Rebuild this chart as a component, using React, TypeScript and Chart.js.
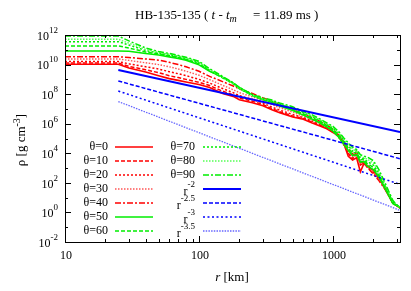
import React, { useEffect, useRef } from 'react';
import { Chart, registerables } from 'chart.js';

Chart.register(...registerables);

// ---------------- DATA ----------------
const radii = [10, 25, 30, 40, 50, 60, 70, 80, 100, 120, 150, 180, 200, 250, 300, 350, 400, 500, 600, 700, 800, 900, 1000, 1100, 1200, 1300, 1400, 1500, 1600, 1700, 1800, 2000, 2200, 2500, 2800, 3162];

// log10(rho) along each polar angle
const logRhoTheta0 = [10.02, 10.02, 9.77, 9.50, 9.25, 9.05, 8.93, 8.82, 8.65, 8.45, 8.05, 7.85, 7.62, 7.42, 7.22, 6.95, 6.75, 6.45, 6.30, 6.05, 5.85, 5.65, 5.40, 5.20, 4.70, 3.80, 3.55, 3.70, 2.75, 3.30, 3.10, 2.85, 2.40, 1.40, 0.65, 0.30];
const logRhoTheta10 = [10.10, 10.10, 9.88, 9.65, 9.45, 9.25, 9.12, 9.00, 8.80, 8.58, 8.20, 7.95, 7.75, 7.52, 7.30, 7.02, 6.82, 6.52, 6.36, 6.10, 5.90, 5.68, 5.44, 5.15, 4.65, 4.00, 3.60, 4.15, 3.20, 3.35, 3.15, 2.72, 2.28, 1.52, 0.64, 0.30];
const logRhoTheta20 = [10.20, 10.20, 10.05, 9.85, 9.70, 9.52, 9.38, 9.25, 9.00, 8.75, 8.38, 8.10, 7.90, 7.65, 7.40, 7.12, 6.92, 6.62, 6.42, 6.18, 5.95, 5.72, 5.48, 5.10, 4.60, 4.05, 3.65, 4.10, 3.30, 3.45, 3.25, 2.80, 2.30, 1.55, 0.63, 0.31];
const logRhoTheta30 = [10.38, 10.38, 10.28, 10.12, 10.00, 9.85, 9.70, 9.55, 9.28, 8.98, 8.60, 8.30, 8.10, 7.82, 7.55, 7.30, 7.08, 6.78, 6.50, 6.28, 6.02, 5.78, 5.52, 5.15, 4.70, 4.20, 3.80, 3.95, 3.35, 3.50, 3.15, 2.70, 2.25, 1.50, 0.62, 0.32];
const logRhoTheta40 = [10.53, 10.53, 10.48, 10.38, 10.30, 10.15, 10.00, 9.85, 9.55, 9.20, 8.85, 8.55, 8.35, 8.05, 7.75, 7.55, 7.30, 6.95, 6.65, 6.40, 6.15, 5.90, 5.62, 5.25, 4.80, 4.35, 3.95, 3.80, 3.45, 3.30, 3.05, 2.60, 2.15, 1.45, 0.60, 0.33];
const logRhoTheta50 = [10.92, 10.92, 10.90, 10.75, 10.65, 10.52, 10.42, 10.30, 9.98, 9.55, 9.15, 8.75, 8.45, 7.95, 7.65, 7.45, 7.20, 6.90, 6.58, 6.30, 6.05, 5.78, 5.50, 5.10, 4.62, 4.20, 3.85, 3.90, 3.40, 3.45, 3.15, 2.90, 2.40, 1.45, 0.60, 0.35];
const logRhoTheta60 = [11.26, 11.26, 11.12, 10.85, 10.72, 10.60, 10.48, 10.35, 10.05, 9.58, 9.10, 8.72, 8.38, 7.90, 7.62, 7.48, 7.25, 6.97, 6.66, 6.40, 6.14, 5.87, 5.62, 5.22, 4.78, 4.35, 4.00, 4.08, 3.55, 3.62, 3.30, 3.05, 2.50, 1.55, 0.65, 0.33];
const logRhoTheta70 = [11.55, 11.55, 11.32, 10.95, 10.78, 10.66, 10.54, 10.40, 10.12, 9.62, 9.12, 8.70, 8.38, 7.90, 7.64, 7.52, 7.30, 7.04, 6.74, 6.48, 6.22, 5.94, 5.70, 5.32, 4.88, 4.52, 4.15, 4.22, 3.68, 3.62, 3.45, 3.20, 2.65, 1.62, 0.70, 0.32];
const logRhoTheta80 = [11.71, 11.71, 11.45, 11.02, 10.82, 10.70, 10.58, 10.45, 10.18, 9.66, 9.14, 8.72, 8.40, 7.92, 7.68, 7.55, 7.34, 7.08, 6.78, 6.52, 6.26, 6.00, 5.76, 5.40, 4.95, 4.62, 4.30, 4.10, 3.80, 3.70, 3.60, 3.35, 2.75, 1.70, 0.75, 0.30];
const logRhoTheta90 = [11.93, 11.93, 11.60, 11.12, 10.88, 10.75, 10.62, 10.50, 10.22, 9.72, 9.20, 8.78, 8.45, 7.98, 7.74, 7.60, 7.40, 7.15, 6.82, 6.60, 6.32, 6.05, 5.82, 5.48, 5.05, 4.70, 4.42, 4.25, 3.90, 3.80, 3.75, 3.50, 2.90, 1.80, 0.80, 0.28];

const thetaLabels = ['θ=0', 'θ=10', 'θ=20', 'θ=30', 'θ=40', 'θ=50', 'θ=60', 'θ=70', 'θ=80', 'θ=90'];

// reference power laws, end points
const powerLawRadii = [25, 3162];
const logRhoR2 = [9.63, 5.43];
const logRhoR25 = [8.89, 3.63];
const logRhoR3 = [8.21, 1.90];
const logRhoR35 = [7.50, 0.14];
const powerLawExponents = ['-2', '-2.5', '-3', '-3.5'];

const xTickValues = [10, 100, 1000];
const xMinorTicks = [20, 30, 40, 50, 60, 70, 80, 90, 200, 300, 400, 500, 600, 700, 800, 900, 2000, 3000];
const yMajorExponents = [-2, 0, 2, 4, 6, 8, 10, 12];
const yMinorExponents = [-1, 1, 3, 5, 7, 9, 11];

// ---------------- STYLES ----------------
const RED = '#ff0000';
const GREEN = '#00ee00';
const BLUE = '#0000ff';
const thetaStyles = [
  { color: RED, dash: [], width: 1.6 },
  { color: RED, dash: [4, 2], width: 1.5 },
  { color: RED, dash: [2, 2], width: 1.5 },
  { color: '#ff5555', dash: [1.5, 1.5], width: 1.4 },
  { color: RED, dash: [6, 2, 2, 2], width: 1.5 },
  { color: GREEN, dash: [], width: 1.6 },
  { color: GREEN, dash: [4, 2], width: 1.5 },
  { color: GREEN, dash: [2, 2], width: 1.5 },
  { color: '#55ff55', dash: [1.5, 1.5], width: 1.4 },
  { color: GREEN, dash: [6, 2, 2, 2], width: 1.5 },
];
const powerStyles = [
  { color: BLUE, dash: [], width: 2 },
  { color: BLUE, dash: [4, 2], width: 1.5 },
  { color: BLUE, dash: [2, 2.5], width: 1.5 },
  { color: '#6666ff', dash: [1.5, 1.2], width: 1.3 },
];

const FONT = '"Liberation Serif", "Times New Roman", serif';

const thetaSeries = [logRhoTheta0, logRhoTheta10, logRhoTheta20, logRhoTheta30, logRhoTheta40, logRhoTheta50, logRhoTheta60, logRhoTheta70, logRhoTheta80, logRhoTheta90];
const powerSeries = [logRhoR2, logRhoR25, logRhoR3, logRhoR35];

function drawSup(ctx: CanvasRenderingContext2D, base: string, sup: string, xRight: number, y: number, baseSize: number, supSize: number, baseDy: number, supDy: number) {
  ctx.font = `${baseSize}px ${FONT}`;
  const wb = ctx.measureText(base).width;
  ctx.font = `${supSize}px ${FONT}`;
  const ws = ctx.measureText(sup).width;
  const x0 = xRight - wb - ws;
  ctx.textAlign = 'left';
  ctx.textBaseline = 'middle';
  ctx.font = `${baseSize}px ${FONT}`;
  ctx.fillText(base, x0, y + baseDy);
  ctx.font = `${supSize}px ${FONT}`;
  ctx.fillText(sup, x0 + wb, y + supDy);
}

const framePlugin = {
  id: 'gnuplotFrame',
  afterDraw(chart: any) {
    const { ctx, chartArea } = chart;
    const xs = chart.scales.x;
    const ys = chart.scales.y;
    const { left, right, top, bottom } = chartArea;
    ctx.save();
    ctx.strokeStyle = '#000';
    ctx.fillStyle = '#000';
    ctx.lineWidth = 1;
    ctx.setLineDash([]);
    // border
    ctx.strokeRect(Math.round(left) + 0.5, Math.round(top) + 0.5, Math.round(right - left), Math.round(bottom - top));
    // x ticks
    const tick = (x: number, len: number) => {
      const px = Math.round(x) + 0.5;
      ctx.beginPath();
      ctx.moveTo(px, bottom);
      ctx.lineTo(px, bottom - len);
      ctx.moveTo(px, top);
      ctx.lineTo(px, top + len);
      ctx.stroke();
    };
    xTickValues.forEach((v) => tick(xs.getPixelForValue(v), 6));
    xMinorTicks.forEach((v) => tick(xs.getPixelForValue(v), 3));
    const ytick = (y: number, len: number) => {
      const py = Math.round(y) + 0.5;
      ctx.beginPath();
      ctx.moveTo(left, py);
      ctx.lineTo(left + len, py);
      ctx.moveTo(right, py);
      ctx.lineTo(right - len, py);
      ctx.stroke();
    };
    yMajorExponents.forEach((e) => ytick(ys.getPixelForValue(Math.pow(10, e)), 6));
    yMinorExponents.forEach((e) => ytick(ys.getPixelForValue(Math.pow(10, e)), 3));

    // x tick labels
    ctx.font = `12px ${FONT}`;
    ctx.textAlign = 'center';
    ctx.textBaseline = 'middle';
    xTickValues.forEach((v) => ctx.fillText(String(v), xs.getPixelForValue(v) + 1, 256));
    // y tick labels
    yMajorExponents.forEach((e) => {
      const y = ys.getPixelForValue(Math.pow(10, e));
      drawSup(ctx, '10', String(e), 58, y, 12, 9, 1.5, -4.5);
    });

    // x axis title
    ctx.font = `italic 13px ${FONT}`;
    const wr = ctx.measureText('r').width;
    ctx.font = `13px ${FONT}`;
    const wk = ctx.measureText(' [km]').width;
    const xt0 = 232 - (wr + wk) / 2;
    ctx.textAlign = 'left';
    ctx.font = `italic 13px ${FONT}`;
    ctx.fillText('r', xt0, 278);
    ctx.font = `13px ${FONT}`;
    ctx.fillText(' [km]', xt0 + wr, 278);

    // y axis title
    ctx.save();
    ctx.translate(22, 140);
    ctx.rotate(-Math.PI / 2);
    ctx.font = `13px ${FONT}`;
    const a = 'ρ [g cm';
    const wa = ctx.measureText(a).width;
    ctx.font = `10px ${FONT}`;
    const wsup = ctx.measureText('-3').width;
    ctx.font = `13px ${FONT}`;
    const wc = ctx.measureText(']').width;
    const tx = -(wa + wsup + wc) / 2;
    ctx.textAlign = 'left';
    ctx.textBaseline = 'middle';
    ctx.fillText(a, tx, 0);
    ctx.font = `10px ${FONT}`;
    ctx.fillText('-3', tx + wa, -5);
    ctx.font = `13px ${FONT}`;
    ctx.fillText(']', tx + wa + wsup, 0);
    ctx.restore();

    // title
    ctx.textAlign = 'left';
    ctx.textBaseline = 'alphabetic';
    let x = 135;
    const by = 19;
    const put = (s: string, font: string, dy = 0) => {
      ctx.font = font;
      ctx.fillText(s, x, by + dy);
      x += ctx.measureText(s).width;
    };
    put('HB-135-135 ( ', `13px ${FONT}`);
    put('t', `italic 13px ${FONT}`);
    put(' - ', `13px ${FONT}`);
    put('t', `italic 13px ${FONT}`);
    put('m', `italic 10px ${FONT}`, 3);
    x += 13;
    put(' = 11.89 ms )', `13px ${FONT}`);

    // legend
    const rowY = (i: number) => 147 + i * 14;
    const sample = (x1: number, x2: number, y: number, st: any) => {
      ctx.save();
      ctx.strokeStyle = st.color;
      ctx.lineWidth = st.width;
      ctx.setLineDash(st.dash);
      ctx.beginPath();
      ctx.moveTo(x1, Math.round(y));
      ctx.lineTo(x2, Math.round(y));
      ctx.stroke();
      ctx.restore();
    };
    thetaLabels.forEach((lab, i) => {
      const col = i < 7 ? 0 : 1;
      const row = i < 7 ? i : i - 7;
      const y = rowY(row);
      ctx.fillStyle = '#000';
      ctx.font = `12px ${FONT}`;
      ctx.textAlign = 'right';
      ctx.textBaseline = 'middle';
      ctx.fillText(lab, col === 0 ? 108 : 195, y);
      sample(col === 0 ? 115 : 203, col === 0 ? 153 : 241, y, thetaStyles[i]);
    });
    powerLawExponents.forEach((ex, j) => {
      const y = rowY(3 + j);
      ctx.fillStyle = '#000';
      drawSup(ctx, 'r', ex, 195, y, 12, 9, 3, -4);
      sample(203, 241, y, powerStyles[j]);
    });
    ctx.restore();
  },
};

export default function App() {
  const ref = useRef<HTMLCanvasElement | null>(null);
  useEffect(() => {
    document.body.style.margin = '0';
    const canvas = ref.current;
    if (!canvas) return;
    const datasets: any[] = [];
    thetaSeries.forEach((arr, i) => {
      datasets.push({
        label: thetaLabels[i],
        data: radii.map((r, k) => ({ x: r, y: Math.pow(10, arr[k]) })),
        borderColor: thetaStyles[i].color,
        backgroundColor: thetaStyles[i].color,
        borderDash: thetaStyles[i].dash,
        borderWidth: thetaStyles[i].width,
        pointRadius: 0,
        tension: 0,
        fill: false,
        order: 100 - i,
      });
    });
    powerSeries.forEach((arr, j) => {
      datasets.push({
        label: 'r^' + powerLawExponents[j],
        data: powerLawRadii.map((r, k) => ({ x: r, y: Math.pow(10, arr[k]) })),
        borderColor: powerStyles[j].color,
        backgroundColor: powerStyles[j].color,
        borderDash: powerStyles[j].dash,
        borderWidth: powerStyles[j].width,
        pointRadius: 0,
        tension: 0,
        fill: false,
        order: 50 - j,
      });
    });
    const chart = new Chart(canvas, {
      type: 'line',
      data: { datasets },
      options: {
        animation: false,
        responsive: false,
        devicePixelRatio: 1,
        layout: { padding: { left: 65, right: 11, top: 35, bottom: 49 } },
        plugins: { legend: { display: false }, tooltip: { enabled: false }, title: { display: false } },
        scales: {
          x: { type: 'logarithmic', min: 10, max: 3162, display: false },
          y: { type: 'logarithmic', min: 1e-2, max: 1e12, display: false },
        },
      },
      plugins: [framePlugin],
    });
    return () => chart.destroy();
  }, []);
  return (
    <div style={{ position: 'absolute', left: 0, top: 0, width: 411, height: 291, background: '#fff' }}>
      <canvas ref={ref} width={411} height={291} style={{ display: 'block' }} />
    </div>
  );
}
